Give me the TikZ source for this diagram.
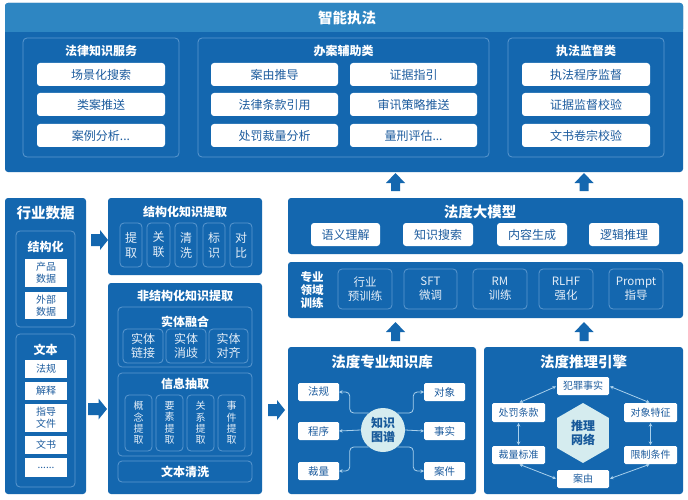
\documentclass[tikz,border=0pt]{standalone}
\usepackage{fontspec}
\setmainfont{Noto Sans CJK SC}
\usetikzlibrary{arrows.meta,shapes.geometric,calc}
\definecolor{panelc}{HTML}{1467AF}
\definecolor{barc}{HTML}{2E86C2}
\definecolor{borderc}{HTML}{5B98CF}
\definecolor{boxtxt}{HTML}{1D5C9E}
\definecolor{linec}{HTML}{A9D0EC}
\definecolor{cyanc}{HTML}{D5ECEF}
\definecolor{hextxt}{HTML}{17599A}
\definecolor{softw}{HTML}{E4EEF8}

\newcommand\mybox[8][]{%
  \pgfmathsetmacro\mbw{#6-#4}\pgfmathsetmacro\mbh{#7-#5}%
  \node[#2, minimum width=\mbw pt, minimum height=\mbh pt, #1] (#3) at ({(#4+#6)/2},{(#5+#7)/2}) {#8};}
% tip x, tip y, rotation, length, head length, head half width, shaft half width
\newcommand\blkarrow[7]{%
  \fill[panelc, shift={(#1,#2)}, rotate=#3] (-#4,-#7) -- (-#5,-#7) -- (-#5,-#6) -- (0,0) -- (-#5,#6) -- (-#5,#7) -- (-#4,#7) -- cycle;}

\tikzset{
  panel/.style={fill=panelc, rounded corners=3pt, inner sep=0pt, outer sep=0pt},
  gbox/.style={draw=borderc, line width=0.8pt, rounded corners=4pt, inner sep=0pt, outer sep=0pt, text=softw, align=center},
  wbox/.style={fill=white, rounded corners=3pt, inner sep=0pt, outer sep=0pt, text=boxtxt, align=center, font=\fontsize{12}{14}\selectfont},
  sbox/.style={wbox, rounded corners=1.5pt, font=\fontsize{10}{12}\selectfont},
  bigt/.style={text=white, font=\fontsize{14.5}{16}\selectfont\bfseries, inner sep=0pt},
  midt/.style={text=white, font=\fontsize{12}{14}\selectfont\bfseries, inner sep=0pt},
  kgline/.style={draw=linec, line width=0.8pt, rounded corners=4pt, -{Stealth[length=3.5pt,width=3.5pt]}},
  rsline/.style={draw=linec, line width=0.8pt, {Stealth[length=3.5pt,width=3.5pt]}-{Stealth[length=3.5pt,width=3.5pt]}, shorten <=1pt, shorten >=1pt},
}

\begin{document}
\begin{tikzpicture}[x=1pt,y=-1pt]
\useasboundingbox (0,0) rectangle (688,500);
\fill[white] (0,0) rectangle (688,500);

% ===== top panel =====
\mybox{panel}{top}{5}{3}{683}{172}{}
\fill[barc, rounded corners=3pt] (5,3) rectangle (683,32);
\fill[barc] (5,20) rectangle (683,32);
\node[bigt] (ttop) at (347,18) {智能执法};

\mybox{gbox}{g1}{23}{38}{179}{157}{}
\node[midt] (g1t) at (101,51) {法律知识服务};
\mybox{wbox}{a1}{37}{63}{165}{86}{场景化搜索}
\mybox{wbox}{a2}{37}{93}{165}{116}{类案推送}
\mybox{wbox}{a3}{37}{124}{165}{147}{案例分析...}

\mybox{gbox}{g2}{198}{38}{489}{157}{}
\node[midt] (g2t) at (343.5,51) {办案辅助类};
\mybox{wbox}{b1}{211}{63}{338}{86}{案由推导}
\mybox{wbox}{b2}{350}{63}{477}{86}{证据指引}
\mybox{wbox}{b3}{211}{93}{338}{116}{法律条款引用}
\mybox{wbox}{b4}{350}{93}{477}{116}{审讯策略推送}
\mybox{wbox}{b5}{211}{124}{338}{147}{处罚裁量分析}
\mybox{wbox}{b6}{350}{124}{477}{147}{量刑评估...}

\mybox{gbox}{g3}{508}{38}{664}{157}{}
\node[midt] (g3t) at (586,51) {执法监督类};
\mybox{wbox}{c1}{522}{63}{650}{86}{执法程序监督}
\mybox{wbox}{c2}{522}{93}{650}{116}{证据监督校验}
\mybox{wbox}{c3}{522}{124}{650}{147}{文书卷宗校验}

% up arrows
\blkarrow{395.5}{173}{90}{18}{10}{9.5}{4.5}
\blkarrow{584}{173}{90}{18}{10}{9.5}{4.5}
\blkarrow{395.5}{322}{90}{19}{10}{9.5}{4.5}
\blkarrow{584}{322}{90}{19}{10}{9.5}{4.5}

% ===== 行业数据 =====
\mybox{panel}{hy}{5}{198}{86}{494}{}
\node[bigt] (hyt) at (45.5,213) {行业数据};
\mybox{gbox}{jg}{16}{231}{75}{327}{}
\node[midt] (jgt) at (45.5,247) {结构化};
\mybox[rounded corners=0pt]{sbox}{d1}{25}{259}{67}{287}{产品\\数据}
\mybox[rounded corners=0pt]{sbox}{d2}{25}{292}{67}{319}{外部\\数据}
\mybox{gbox}{wb}{16}{334}{75}{487}{}
\node[midt] (wbt) at (45.5,350) {文本};
\mybox[rounded corners=0pt]{sbox}{e1}{25}{360}{67}{378}{法规}
\mybox[rounded corners=0pt]{sbox}{e2}{25}{382}{67}{400}{解释}
\mybox[rounded corners=0pt]{sbox}{e3}{25}{404}{67}{432}{指导\\文件}
\mybox[rounded corners=0pt]{sbox}{e4}{25}{436}{67}{454}{文书}
\mybox[rounded corners=0pt]{sbox}{e5}{25}{458}{67}{477}{......}

\blkarrow{108}{240}{0}{17}{8}{10}{6}
\blkarrow{107}{409}{0}{19}{8.5}{10.5}{6}
\blkarrow{285}{410}{0}{17}{8}{10}{6}

% ===== 结构化知识提取 =====
\mybox{panel}{sk}{108}{198}{262}{275}{}
\node[midt] (skt) at (185,212) {结构化知识提取};
\tikzset{vt/.style={gbox, font=\fontsize{12}{15}\selectfont}}
\mybox{vt}{s1}{120}{223}{142}{267}{提\\取}
\mybox{vt}{s2}{147}{223}{170}{267}{关\\联}
\mybox{vt}{s3}{175}{223}{197}{267}{清\\洗}
\mybox{vt}{s4}{203}{223}{225}{267}{标\\识}
\mybox{vt}{s5}{230}{223}{252}{267}{对\\比}

% ===== 非结构化知识提取 =====
\mybox{panel}{uk}{108}{283}{262}{494}{}
\node[midt] (ukt) at (185,296) {非结构化知识提取};
\mybox{gbox}{rh}{118}{307}{252}{367}{}
\node[midt] (rht) at (185,322) {实体融合};
\tikzset{ht/.style={gbox, font=\fontsize{12}{14}\selectfont}}
\mybox{ht}{r1}{123}{329}{163}{363}{实体\\链接}
\mybox{ht}{r2}{166}{329}{206}{363}{实体\\消歧}
\mybox{ht}{r3}{209}{329}{248}{363}{实体\\对齐}
\mybox{gbox}{xx}{118}{373}{252}{456}{}
\node[midt] (xxt) at (185,384) {信息抽取};
\tikzset{ft/.style={gbox, font=\fontsize{10}{11.4}\selectfont}}
\mybox{ft}{x1}{125}{395}{152}{451}{概\\念\\提\\取}
\mybox{ft}{x2}{156}{395}{183}{451}{要\\素\\提\\取}
\mybox{ft}{x3}{187}{395}{214}{451}{关\\系\\提\\取}
\mybox{ft}{x4}{218}{395}{245}{451}{事\\件\\提\\取}
\mybox[text=white, font=\fontsize{12}{14}\selectfont\bfseries]{gbox}{qx}{118}{461}{252}{482}{文本清洗}

% ===== 法度大模型 =====
\mybox{panel}{dm}{288}{198}{683}{254}{}
\node[bigt] (dmt) at (480,212) {法度大模型};
\mybox{wbox}{m1}{311}{223}{380}{246}{语义理解}
\mybox{wbox}{m2}{403}{223}{473}{246}{知识搜索}
\mybox{wbox}{m3}{497}{223}{567}{246}{内容生成}
\mybox{wbox}{m4}{589}{223}{659}{246}{逻辑推理}

% ===== 专业领域训练 =====
\mybox{panel}{xl}{288}{262}{683}{318}{}
\node[midt, font=\fontsize{11.5}{13}\selectfont\bfseries, align=center] (xlt) at (312,290) {专业\\领域\\训练};
\tikzset{tt/.style={gbox, font=\fontsize{11.5}{14}\selectfont}}
\mybox{tt}{n1}{338}{269}{392}{309}{行业\\预训练}
\mybox{tt}{n2}{404}{269}{457}{309}{SFT\\微调}
\mybox{tt}{n3}{473}{269}{527}{309}{RM\\训练}
\mybox{tt}{n4}{539}{269}{593}{309}{RLHF\\强化}
\mybox{tt}{n5}{609}{269}{663}{309}{Prompt\\指导}

% ===== 法度专业知识库 =====
\mybox{panel}{kb}{288}{347}{476}{494}{}
\node[bigt] (kbt) at (382,362) {法度专业知识库};
\tikzset{kbox/.style={sbox, font=\fontsize{10.5}{12}\selectfont}}
\mybox{kbox}{fg}{298}{383}{339}{401}{法规}
\mybox{kbox}{cx}{298}{422}{339}{440}{程序}
\mybox{kbox}{cl}{298}{462}{339}{480}{裁量}
\mybox{kbox}{dx}{424}{383}{465}{401}{对象}
\mybox{kbox}{ss}{424}{422}{465}{440}{事实}
\mybox{kbox}{aj}{424}{462}{465}{480}{案件}
\node[circle, fill=cyanc, minimum size=44pt, inner sep=0pt, text=hextxt, align=center, font=\fontsize{12}{13.5}\selectfont\bfseries] (kg) at (383,430) {知识\\图谱};
\draw[kgline] (kg.130) -- ++(-19,0) |- (fg.east);
\draw[kgline] (kg.west) -- (cx.east);
\draw[kgline] (kg.230) -- ++(-19,0) |- (cl.east);
\draw[kgline] (kg.50) -- ++(16,0) |- (dx.west);
\draw[kgline] (kg.east) -- (ss.west);
\draw[kgline] (kg.310) -- ++(16,0) |- (aj.west);

% ===== 法度推理引擎 =====
\mybox{panel}{tl}{484}{347}{683}{494}{}
\node[bigt] (tlt) at (583.5,362) {法度推理引擎};
\node[regular polygon, regular polygon sides=6, shape border rotate=30, minimum size=60pt, inner sep=0pt, fill=cyanc, text=hextxt, align=center, font=\fontsize{12}{14}\selectfont\bfseries] (hx) at (583,433) {推理\\网络};
\tikzset{rbox/.style={sbox, font=\fontsize{10}{12}\selectfont}}
\mybox{rbox}{fz}{557}{377}{609}{395}{犯罪事实}
\mybox{rbox}{ct}{492}{403}{545}{422}{处罚条款}
\mybox{rbox}{tz}{624}{403}{677}{422}{对象特征}
\mybox{rbox}{bz}{492}{446}{545}{464}{裁量标准}
\mybox{rbox}{xz}{624}{446}{677}{464}{限制条件}
\mybox{rbox}{ay}{557}{470}{609}{488}{案由}
\draw[rsline] (fz.west) -- (ct.north);
\draw[rsline] (fz.east) -- (tz.north);
\draw[rsline] (ct.south) -- (bz.north);
\draw[rsline] (tz.south) -- (xz.north);
\draw[rsline] (bz.south) -- (ay.west);
\draw[rsline] (xz.south) -- (ay.east);
\end{tikzpicture}
\end{document}
